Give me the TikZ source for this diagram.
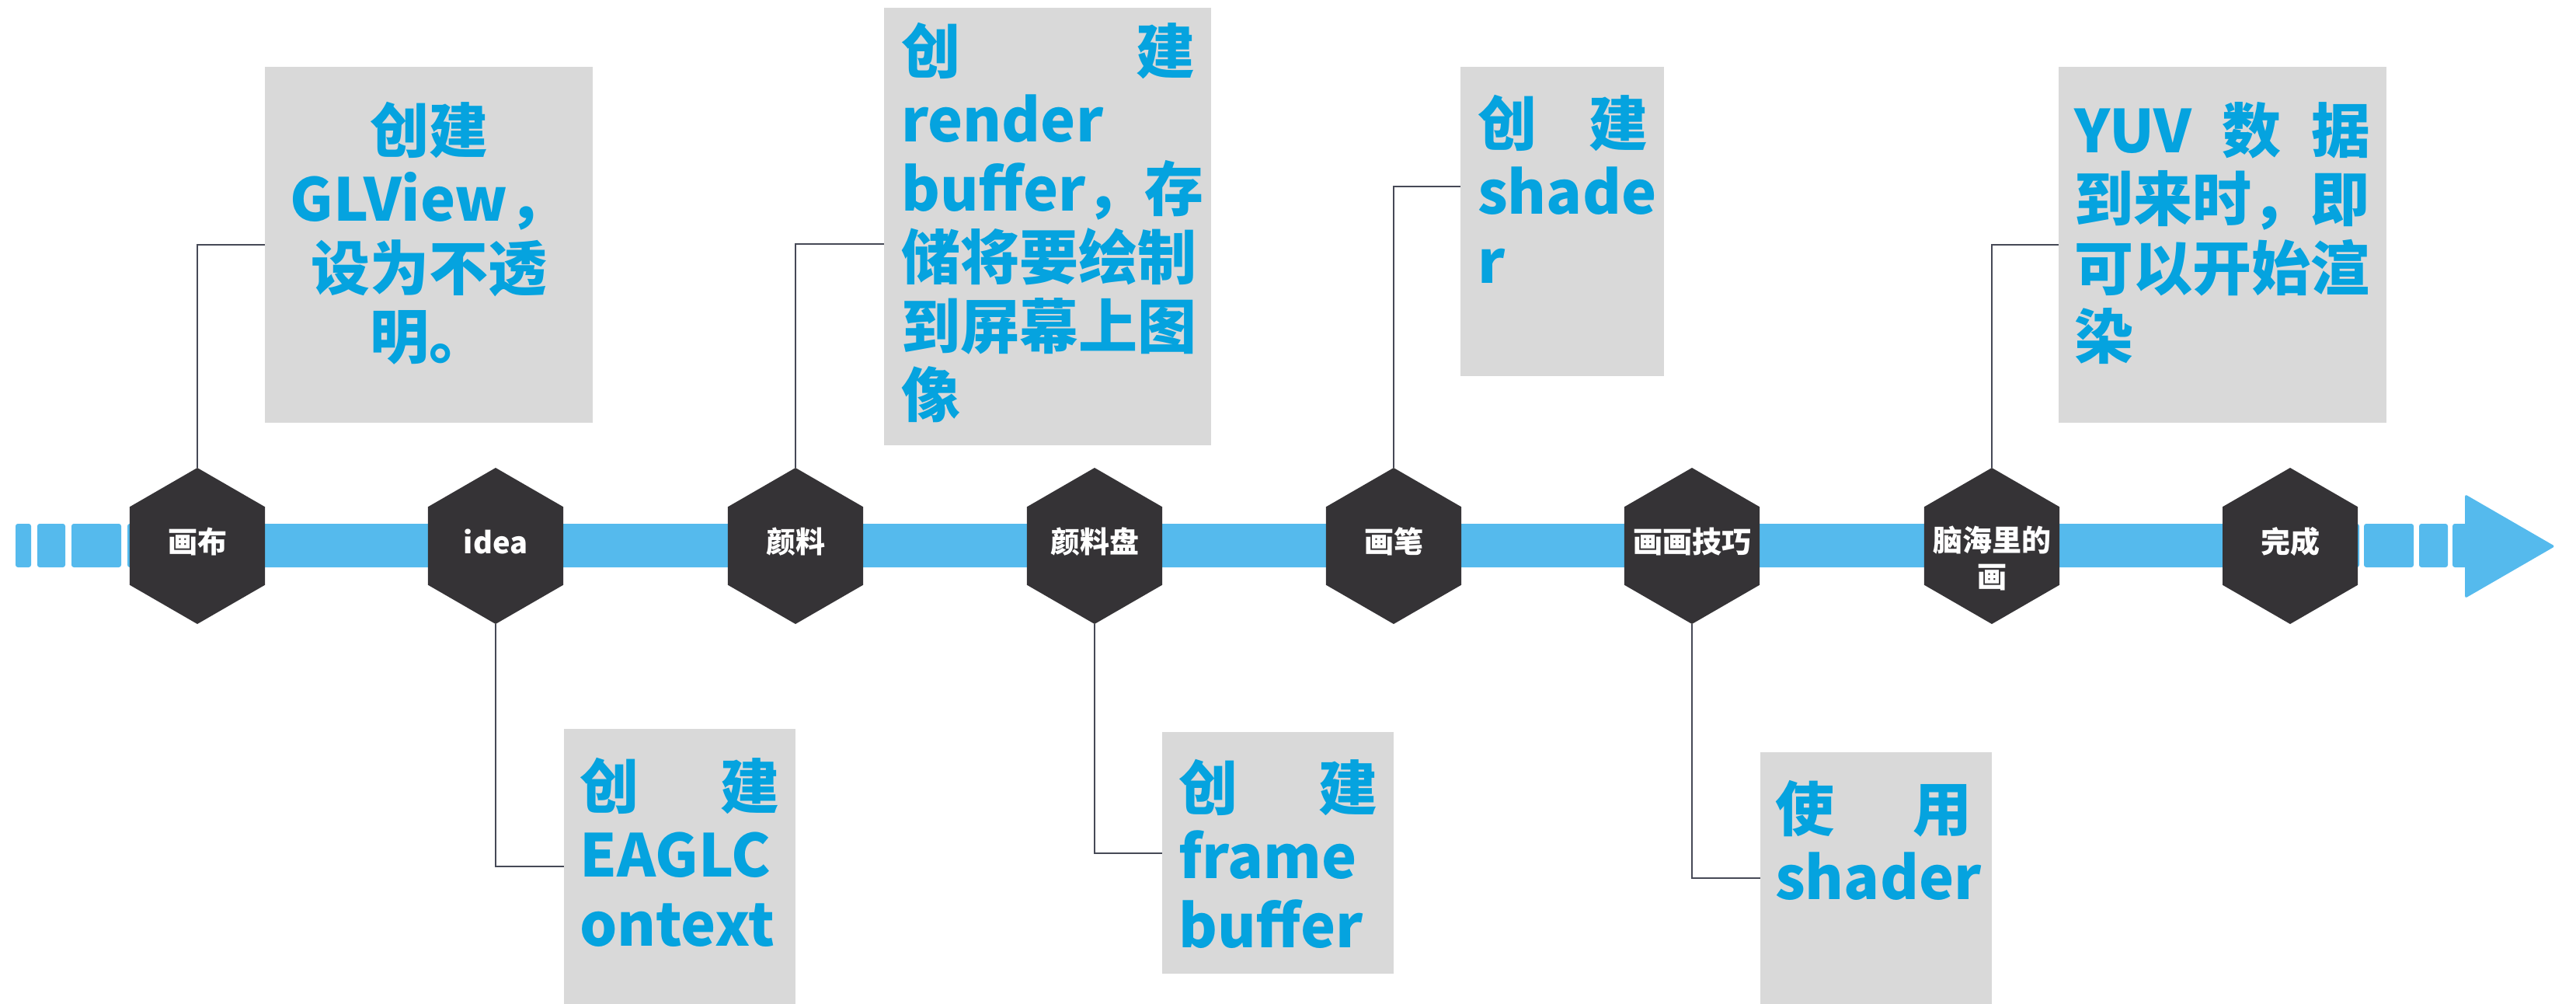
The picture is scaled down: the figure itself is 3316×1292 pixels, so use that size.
\documentclass[tikz,border=0pt]{standalone}
\usepackage{fontspec}
\setmainfont{Noto Sans CJK SC}
\usetikzlibrary{shapes.geometric}
\definecolor{barblue}{RGB}{85,186,237}
\definecolor{hexdark}{RGB}{53,51,54}
\definecolor{cardgray}{RGB}{217,217,217}
\definecolor{txtblue}{RGB}{5,163,223}
\definecolor{linkgray}{RGB}{70,73,86}
\tikzset{
  hexa/.style={regular polygon, regular polygon sides=6, shape border rotate=90,
    minimum size=201pt, inner sep=0pt, fill=hexdark, draw=none},
  hexlabel/.style={text=white, inner sep=0pt, align=center,
    font=\bfseries\fontsize{38pt}{47pt}\selectfont},
  card/.style={rectangle, fill=cardgray, draw=none, inner sep=0pt, anchor=north west},
  cardtext/.style={text=txtblue, inner sep=0pt, anchor=north west, align=left,
    font=\bfseries\fontsize{76pt}{88.5pt}\selectfont},
  link/.style={draw=linkgray, line width=2pt},
  barseg/.style={fill=barblue, rounded corners=3pt}
}
\begin{document}
\begin{tikzpicture}[x=1pt,y=-1pt]
\useasboundingbox (0,0) rectangle (3316,1292);

% timeline bar
\fill[barseg] (20,674) rectangle (40,730);
\fill[barseg] (48,674) rectangle (84,730);
\fill[barseg] (92,674) rectangle (156,730);
\fill[barseg] (164,674) rectangle (3037,730);
\fill[barseg] (3043,674) rectangle (3107,730);
\fill[barseg] (3114,674) rectangle (3151,730);
\fill[barseg] (3157,674) rectangle (3185,730);
\fill[barblue, rounded corners=3pt] (3173,636) -- (3289,703) -- (3173,770) -- cycle;

% cards
\node[card, minimum width=422pt, minimum height=458pt] (b1) at (341,86) {};
\node[card, minimum width=298pt, minimum height=354pt] (b2) at (726,938) {};
\node[card, minimum width=421pt, minimum height=563pt] (b3) at (1138,10) {};
\node[card, minimum width=262pt, minimum height=398pt] (b4) at (1880,86) {};
\node[card, minimum width=422pt, minimum height=458pt] (b5) at (2650,86) {};
\node[card, minimum width=298pt, minimum height=311pt] (b6) at (1496,942) {};
\node[card, minimum width=298pt, minimum height=324pt] (b7) at (2266,968) {};

% hexagons
\node[hexa] (h1) at (254,702.5) {};
\node[hexa] (h2) at (638,702.5) {};
\node[hexa] (h3) at (1024,702.5) {};
\node[hexa] (h4) at (1409,702.5) {};
\node[hexa] (h5) at (1794,702.5) {};
\node[hexa] (h6) at (2178,702.5) {};
\node[hexa] (h7) at (2564,702.5) {};
\node[hexa] (h8) at (2948,702.5) {};

% connectors
\draw[link] (h1.north) |- (b1.west);
\draw[link] (h2.south) |- (b2.west);
\draw[link] (h3.north) |- ([yshift=-22.5pt]b3.west);
\draw[link] (h4.south) |- (b6.west);
\draw[link] (h5.north) |- ([yshift=45pt]b4.west);
\draw[link] (h6.south) |- (b7.west);
\draw[link] (h7.north) |- (b5.west);

% hexagon labels
\node[hexlabel] (l1) at (254,697) {画布};
\node[hexlabel] (l2) at (638,697) {idea};
\node[hexlabel] (l3) at (1024,697) {颜料};
\node[hexlabel] (l4) at (1409,697) {颜料盘};
\node[hexlabel] (l5) at (1794,697) {画笔};
\node[hexlabel] (l6) at (2178,697) {画画技巧};
\node[hexlabel] (l7) at (2564,718) {脑海里的\\画};
\node[hexlabel] (l8) at (2948,697) {完成};

% card texts
\node[cardtext, anchor=north, align=center] (t1) at (552,131)
  {创建\\GLView，\\设为不透\\明。};
\node[cardtext] (t2) at (746,975)
  {\makebox[257pt]{创\hfill 建}\\EAGLC\\ontext};
\node[cardtext] (t3) at (1160,29)
  {\makebox[378pt]{创\hfill 建}\\render\\buffer，存\\储将要绘制\\到屏幕上图\\像};
\node[cardtext] (t4) at (1902,122)
  {\makebox[219pt]{创\hfill 建}\\shade\\r};
\node[cardtext] (t5) at (2670,131)
  {\makebox[381pt]{YUV\hfill 数\hfill 据}\\到来时，即\\可以开始渲\\染};
\node[cardtext] (t6) at (1517,977)
  {\makebox[256pt]{创\hfill 建}\\frame\\buffer};
\node[cardtext] (t7) at (2285,1004)
  {\makebox[253pt]{使\hfill 用}\\shader};
\end{tikzpicture}
\end{document}
